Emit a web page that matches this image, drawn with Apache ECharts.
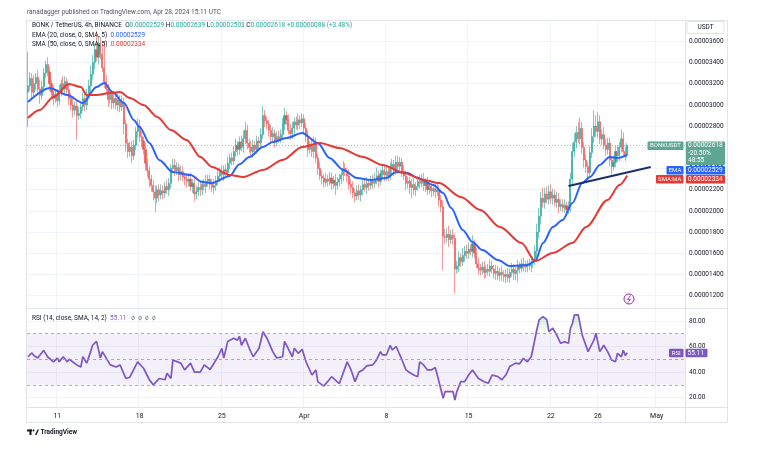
<!DOCTYPE html>
<html>
<head>
<meta charset="utf-8">
<script src="https://cdn.jsdelivr.net/npm/echarts@6/dist/echarts.min.js"></script>
<style>
html, body { margin: 0; padding: 0; background: #fff; }
#chart { width: 765px; height: 451px; }
</style>
</head>
<body>
<div id="chart"></div>
<script>
// BONK/USDT 4h, prices in units of 1e-8 USDT, first bar = Mar 8 12:00
const barCount = 336
const firstOpen = 3120
const closes = [
  3180, 3250, 3120, 3200, 3260, 3150, 3090, 3170, 3300, 3380, 3310, 3200, 3120, 3060, 3100,
  3040, 3130, 3200, 3150, 3220, 3140,
  3060, 3000, 2950, 2990, 2900, 2920,
  2980, 3060, 3000, 3100, 3180, 3290,
  3400, 3520, 3450, 3580, 3480, 3350,
  3220, 3150, 3050, 3100, 3020, 3060,
  3000, 3050, 2980, 3020, 2820, 2640,
  2560, 2600, 2520, 2620, 2750, 2800,
  2700, 2660, 2580, 2450, 2380, 2300,
  2240, 2180, 2120, 2200, 2150, 2190,
  2170, 2230, 2200, 2260, 2400, 2430,
  2380, 2410, 2340, 2370, 2320, 2300,
  2280, 2300, 2230, 2260, 2160, 2180,
  2220, 2200, 2250, 2230, 2280, 2300,
  2250, 2220, 2240, 2280, 2330, 2370,
  2340, 2390, 2360, 2450, 2500, 2470,
  2560, 2620, 2580, 2650, 2600, 2680,
  2760, 2640, 2600, 2560, 2620, 2580,
  2660, 2640, 2720, 2900, 2850, 2820,
  2760, 2700, 2730, 2660, 2700, 2680,
  2720, 2820, 2900, 2860, 2760, 2730,
  2780, 2840, 2810, 2860, 2830, 2870,
  2780, 2700, 2580, 2620, 2560, 2640,
  2500, 2400, 2330, 2310, 2270, 2300,
  2280, 2310, 2260, 2290, 2240, 2270,
  2300, 2340, 2400, 2370, 2330, 2250,
  2220, 2170, 2140, 2190, 2150, 2200,
  2250, 2220, 2260, 2240, 2280, 2260,
  2300, 2330, 2280, 2350, 2380, 2340,
  2370, 2330, 2400, 2440, 2380, 2460,
  2420, 2460, 2370, 2330, 2260, 2280,
  2220, 2250, 2200, 2230, 2280, 2260,
  2300, 2240, 2270, 2200, 2230, 2190,
  2210, 2180, 2200, 2100, 2040, 1760,
  1750, 1780, 1730, 1770, 1740, 1450,
  1480, 1560, 1520, 1580, 1620, 1600,
  1640, 1620, 1690, 1600, 1500, 1460,
  1440, 1470, 1420, 1450, 1430, 1480,
  1450, 1410, 1430, 1390, 1420, 1400,
  1380, 1400, 1370, 1420, 1450, 1410,
  1440, 1480, 1460, 1500, 1490, 1470,
  1500, 1480, 1510, 1530, 1620, 1800,
  1950, 2120, 2080, 2160, 2110, 2180,
  2120, 2150, 2080, 2110, 2040, 2060,
  2030, 2050, 2010, 2040, 2300, 2560,
  2650, 2740, 2680, 2780, 2600, 2480,
  2420, 2360, 2550, 2700, 2800, 2750,
  2840, 2680, 2720, 2620, 2580, 2640,
  2480, 2420, 2460, 2560, 2520, 2600,
  2680, 2560, 2529, 2618
]
const wickUp = [
  320, 60, 50, 80, 40, 70, 90, 60, 50, 40, 70, 50, 40, 60, 50,
  50, 60, 40, 70, 50, 40,
  40, 50, 60, 40, 50, 60,
  50, 60, 40, 50, 60, 80,
  70, 60, 180, 70, 60, 90,
  250, 60, 50, 70, 40, 60,
  50, 60, 40, 70, 50, 40,
  40, 50, 60, 50, 40, 70,
  60, 50, 40, 60, 50, 40,
  40, 50, 60, 40, 50, 60,
  50, 40, 60, 50, 40, 60,
  60, 50, 40, 60, 50, 40,
  40, 50, 60, 40, 50, 60,
  50, 60, 40, 50, 60, 40,
  40, 50, 60, 50, 70, 40,
  60, 40, 50, 60, 40, 50,
  50, 60, 40, 50, 60, 80,
  80, 50, 40, 60, 50, 40,
  50, 40, 60, 90, 50, 40,
  40, 50, 60, 40, 50, 60,
  50, 60, 70, 40, 50, 60,
  60, 40, 50, 60, 40, 50,
  40, 50, 60, 40, 50, 60,
  50, 40, 60, 50, 40, 60,
  40, 60, 50, 40, 60, 50,
  50, 40, 70, 50, 40, 60,
  50, 60, 40, 50, 60, 40,
  40, 50, 60, 40, 50, 60,
  60, 80, 50, 40, 60, 50,
  50, 40, 60, 50, 40, 60,
  60, 50, 40, 60, 50, 40,
  40, 50, 60, 40, 50, 60,
  50, 60, 40, 50, 60, 40,
  40, 50, 60, 40, 50, 60,
  70, 60, 80, 50, 60, 40,
  50, 60, 40, 70, 50, 60,
  60, 50, 80, 40, 50, 60,
  40, 50, 60, 40, 50, 60,
  50, 40, 60, 50, 40, 60,
  40, 50, 60, 40, 60, 50,
  50, 60, 40, 50, 60, 40,
  40, 50, 60, 40, 60, 80,
  80, 60, 100, 60, 70, 60,
  70, 60, 50, 70, 60, 50,
  50, 60, 40, 50, 60, 80,
  80, 60, 100, 100, 60, 50,
  50, 40, 60, 80, 150, 100,
  90, 60, 50, 70, 60, 50,
  50, 40, 60, 50, 60, 50,
  90, 60, 50, 21
]
const wickDown = [
  330, 50, 70, 40, 60, 50, 80, 40, 60, 50, 40, 70, 50, 60, 40,
  60, 40, 50, 40, 60, 50,
  60, 50, 70, 50, 230, 40,
  50, 40, 60, 50, 40, 60,
  50, 60, 40, 70, 50, 40,
  60, 50, 70, 40, 60, 50,
  40, 60, 50, 40, 100, 80,
  60, 50, 70, 40, 50, 60,
  50, 60, 50, 70, 60, 80,
  60, 80, 130, 50, 60, 40,
  60, 50, 40, 60, 50, 40,
  50, 40, 60, 50, 40, 60,
  60, 50, 40, 60, 70, 50,
  40, 60, 50, 40, 60, 50,
  50, 40, 60, 50, 40, 60,
  50, 60, 40, 50, 60, 40,
  40, 50, 60, 50, 40, 50,
  50, 60, 50, 40, 60, 50,
  40, 60, 50, 40, 60, 50,
  60, 50, 40, 60, 50, 40,
  40, 50, 60, 50, 40, 60,
  50, 60, 40, 50, 60, 40,
  60, 50, 70, 40, 50, 60,
  50, 60, 40, 60, 50, 40,
  50, 40, 60, 50, 90, 40,
  40, 50, 60, 40, 60, 50,
  60, 50, 60, 40, 50, 60,
  50, 40, 60, 50, 40, 50,
  40, 50, 60, 40, 50, 60,
  60, 50, 40, 60, 50, 40,
  40, 60, 50, 40, 60, 50,
  60, 100, 50, 60, 40, 50,
  40, 50, 60, 50, 40, 60,
  50, 60, 40, 60, 50, 320,
  60, 50, 70, 40, 60, 225,
  40, 60, 50, 40, 60, 50,
  50, 40, 60, 50, 40, 60,
  50, 40, 60, 50, 40, 50,
  40, 50, 60, 40, 50, 60,
  50, 60, 40, 50, 40, 60,
  60, 110, 50, 40, 60, 50,
  50, 40, 60, 50, 40, 60,
  60, 80, 50, 60, 40, 50,
  50, 60, 40, 50, 60, 40,
  40, 50, 60, 40, 50, 60,
  50, 60, 40, 50, 60, 70,
  60, 70, 40, 50, 60, 50,
  60, 50, 60, 40, 60, 50,
  60, 80, 40, 50, 60, 50,
  50, 40, 60, 26
]
// EMA 20 and SMA 50: [bar index, value]
const emaPoints = [
  [0, 3027], [11, 3160], [20, 3093], [28, 3018], [35, 3169], [39, 3207], [43, 3122], [49, 3018],
  [54, 2858], [57, 2792], [62, 2641], [67, 2480], [74, 2367], [83, 2339], [89, 2273], [94, 2263],
  [103, 2330], [108, 2440], [113, 2509], [120, 2603], [125, 2650], [132, 2688], [140, 2735],
  [148, 2641], [154, 2499], [161, 2386], [168, 2311], [175, 2292], [183, 2311], [188, 2367],
  [194, 2358], [199, 2311], [207, 2244], [212, 2169], [216, 2030], [222, 1820], [227, 1706],
  [232, 1631], [240, 1537], [246, 1480], [255, 1490], [259, 1527], [263, 1697], [268, 1848],
  [273, 1914], [278, 2074], [283, 2263], [287, 2320], [292, 2433], [297, 2509], [301, 2499], [306, 2529]
]
const smaPoints = [
  [0, 2877], [6, 2952], [13, 3075], [21, 3197], [27, 3169], [30, 3093], [35, 3093], [42, 3112],
  [47, 3122], [52, 3065], [59, 2999], [66, 2886], [73, 2763], [81, 2669], [88, 2509], [94, 2414],
  [103, 2339], [110, 2320], [120, 2386], [130, 2480], [140, 2603], [149, 2641], [159, 2594],
  [171, 2509], [181, 2433], [192, 2358], [202, 2292], [210, 2263], [221, 2131], [231, 2008],
  [241, 1848], [252, 1697], [259, 1527], [268, 1603], [278, 1697], [285, 1848], [296, 2103],
  [302, 2244], [306, 2334]
]
const rsiPoints = [
  [0, 52], [2, 55], [3, 53], [5, 51], [8, 57], [10, 52], [13, 48], [15, 51], [16, 48], [18, 52],
  [20, 48], [21, 50], [25, 45.6], [27, 44], [28, 52], [30, 47], [32, 56], [33, 61], [35, 64],
  [37, 51], [38, 56], [42, 45.6], [45, 44], [47, 45.6], [50, 35], [52, 36], [56, 48], [59, 43],
  [62, 34], [64, 30], [67, 35], [70, 34], [71, 39], [73, 35], [74, 49.5], [78, 47], [80, 41.7],
  [83, 47], [85, 40], [88, 40], [90, 45.6], [93, 42], [97, 52], [99, 58.6], [100, 51], [102, 64],
  [105, 66.5], [107, 65], [108, 68], [109, 61], [111, 66.5], [113, 58.6], [115, 52], [118, 58.6],
  [120, 71.6], [122, 66.5], [125, 56], [127, 51], [130, 52], [131, 64], [135, 52], [136, 58.6],
  [138, 54.7], [140, 57.8], [142, 48], [145, 37.7], [147, 41.7], [148, 32.5], [151, 29], [153, 32.5],
  [155, 36.4], [159, 31], [163, 48], [165, 41.7], [167, 32.5], [169, 40], [171, 41.7], [173, 44.8],
  [176, 45.6], [178, 49.5], [180, 56], [181, 53.4], [183, 53.4], [185, 61], [186, 57.3], [188, 60],
  [191, 49.5], [193, 41.7], [195, 39.5], [197, 37.7], [199, 36.4], [200, 48], [202, 45.6], [204, 41.7],
  [206, 41.7], [208, 43.5], [209, 37.7], [212, 19.5], [213, 24.7], [217, 24.7], [218, 18.2],
  [219, 24.7], [221, 32.5], [223, 32.5], [225, 37.7], [227, 41.7], [230, 35], [233, 32.5], [235, 31.2],
  [237, 37.7], [240, 36.4], [242, 34], [244, 37.7], [246, 44.3], [249, 47], [251, 46.4], [253, 50.8],
  [255, 48], [257, 52], [260, 74.3], [261, 80.8], [263, 83.4], [265, 80.8], [266, 71.6], [268, 74.3],
  [270, 69], [272, 62.5], [274, 63.8], [276, 62.5], [277, 74.3], [278, 78], [279, 84.7], [281, 84.7],
  [283, 69], [286, 56], [289, 65], [290, 70.4], [292, 56], [294, 61], [296, 56], [298, 49.5],
  [300, 48], [301, 54.7], [303, 52], [304, 57], [305, 53], [306, 55.11]
]
const necklinePoints = [[276, 2235], [318, 2414]]
const patternMarks = [
  { name: 'S', value: [278, 2839] },
  { name: 'H', value: [289, 3056] },
  { name: 'S', value: [306, 2848] }
]
const tickIndex = [15, 57, 99, 141, 183, 225, 267, 291, 321]
const tickText = ['11', '18', '25', 'Apr', '8', '15', '22', '26', 'May']
const lastPrice = 2618
const emaLast = 2529
const smaLast = 2334
const rsiLast = 55.11

const FONT = 'Roboto, "Noto Sans", sans-serif'
const cats = Array.from({ length: barCount }, (_, i) => String(i))
const candles = closes.map((c, i) => {
  const o = i === 0 ? firstOpen : closes[i - 1]
  const hi = Math.max(o, c) + (wickUp[i] || 0)
  const lo = Math.min(o, c) - (wickDown[i] || 0)
  return [o, c, lo, hi]
})
const isTick = (idx) => tickIndex.indexOf(idx) >= 0
const fmt = (v) => (v / 1e8).toFixed(8)
const gridLine = '#f0f3fa'
// parts of the RSI line outside the 30-70 band, for the zone fills
const rsiHigh = rsiPoints.map(([i, v]) => [i, Math.max(v, 70)])
const rsiLow = rsiPoints.map(([i, v]) => [i, Math.min(v, 30)])

const chart = echarts.init(document.getElementById('chart'))
const option = {
  animation: false,
  backgroundColor: '#fff',
  textStyle: { fontFamily: FONT },
  grid: [
    { left: 27, right: 80, top: 20.1, height: 296.8 },
    { left: 27, right: 80, top: 295.4, height: 127.8 },
    { left: 27, right: 80, top: 308.5, height: 99 }
  ],
  xAxis: [
    {
      type: 'category', gridIndex: 0, data: cats,
      axisLine: { show: false }, axisTick: { show: false }, axisLabel: { show: false },
      splitLine: { show: true, interval: (i) => isTick(i), lineStyle: { color: gridLine, width: 1 } }
    },
    { type: 'category', gridIndex: 1, data: cats, show: false },
    {
      type: 'category', gridIndex: 2, data: cats,
      axisLine: { show: false }, axisTick: { show: false },
      axisLabel: {
        interval: (i) => isTick(i),
        formatter: (v) => { const k = tickIndex.indexOf(Number(v)); return k >= 0 ? tickText[k] : '' },
        fontSize: 7, color: '#131722', margin: 5, fontFamily: FONT
      },
      splitLine: { show: true, interval: (i) => isTick(i), lineStyle: { color: gridLine, width: 1 } }
    }
  ],
  yAxis: [
    {
      type: 'value', gridIndex: 0, position: 'right', min: 1000, max: 3800, interval: 200,
      axisLine: { show: false }, axisTick: { show: false },
      axisLabel: {
        formatter: (v) => (v >= 1200 && v <= 3600) ? fmt(v) : '',
        fontSize: 6.5, color: '#131722', margin: 4, align: 'left', fontFamily: FONT
      },
      splitLine: { show: true, showMinLine: false, showMaxLine: false, lineStyle: { color: gridLine } }
    },
    {
      type: 'value', gridIndex: 1, position: 'right', min: 0, max: 100, interval: 20,
      axisLine: { show: false }, axisTick: { show: false },
      axisLabel: {
        formatter: (v) => (v >= 20 && v <= 80) ? v.toFixed(2) : '',
        fontSize: 6.5, color: '#131722', margin: 4, align: 'left', fontFamily: FONT
      },
      splitLine: { show: true, showMinLine: false, showMaxLine: false, lineStyle: { color: gridLine } }
    },
    { type: 'value', gridIndex: 2, show: false }
  ],
  series: [
    {
      name: 'BONKUSDT', type: 'candlestick', xAxisIndex: 0, yAxisIndex: 0,
      data: candles, barWidth: 1.6,
      itemStyle: { color: '#26a69a', color0: '#ef5350', borderColor: '#26a69a', borderColor0: '#ef5350', borderWidth: 0.6 },
      markLine: {
        silent: true, symbol: ['none', 'none'], label: { show: false },
        lineStyle: { color: '#26a69a', type: [1, 2], width: 1, opacity: 0.6 },
        data: [{ yAxis: lastPrice }]
      }
    },
    {
      name: 'EMA', type: 'line', xAxisIndex: 0, yAxisIndex: 0, data: emaPoints,
      symbol: 'none', smooth: 0.3, smoothMonotone: 'x',
      lineStyle: { color: '#2962ff', width: 2 }
    },
    {
      name: 'SMA', type: 'line', xAxisIndex: 0, yAxisIndex: 0, data: smaPoints,
      symbol: 'none', smooth: 0.3, smoothMonotone: 'x',
      lineStyle: { color: '#e53935', width: 2 }
    },
    {
      name: 'neckline', type: 'line', xAxisIndex: 0, yAxisIndex: 0, data: necklinePoints,
      symbol: 'none', lineStyle: { color: '#1c2f6b', width: 2 }
    },
    {
      name: 'pattern', type: 'scatter', xAxisIndex: 0, yAxisIndex: 0, data: patternMarks,
      symbolSize: 1, itemStyle: { opacity: 0 },
      label: {
        show: true, position: 'inside', formatter: (p) => p.name,
        color: '#3a9a88', fontSize: 13, fontWeight: 600, fontFamily: FONT
      }
    },
    {
      name: 'overbought', type: 'line', xAxisIndex: 1, yAxisIndex: 1, data: rsiHigh,
      symbol: 'none', lineStyle: { width: 0 }, silent: true,
      areaStyle: {
        origin: 70,
        color: new echarts.graphic.LinearGradient(0, 0, 0, 1, [
          { offset: 0, color: 'rgba(76,175,80,0.35)' },
          { offset: 1, color: 'rgba(76,175,80,0.05)' }
        ])
      }
    },
    {
      name: 'oversold', type: 'line', xAxisIndex: 1, yAxisIndex: 1, data: rsiLow,
      symbol: 'none', lineStyle: { width: 0 }, silent: true,
      areaStyle: {
        origin: 30,
        color: new echarts.graphic.LinearGradient(0, 0, 0, 1, [
          { offset: 0, color: 'rgba(242,54,69,0.05)' },
          { offset: 1, color: 'rgba(242,54,69,0.3)' }
        ])
      }
    },
    {
      name: 'RSI', type: 'line', xAxisIndex: 1, yAxisIndex: 1, data: rsiPoints,
      symbol: 'none', lineStyle: { color: '#7e57c2', width: 1.7 },
      markArea: {
        silent: true, itemStyle: { color: 'rgba(126,87,194,0.09)' },
        data: [[{ yAxis: 30 }, { yAxis: 70 }]]
      },
      markLine: {
        silent: true, symbol: ['none', 'none'], label: { show: false },
        lineStyle: { color: '#9598a1', type: [3, 3], width: 0.8 },
        data: [{ yAxis: 70 }, { yAxis: 50 }, { yAxis: 30 }]
      }
    },
    { type: 'line', xAxisIndex: 2, yAxisIndex: 2, data: [] }
  ]
}
chart.setOption(option)

// overlays: frame, legends, value tags
const priceY = chart.convertToPixel({ yAxisIndex: 0 }, lastPrice)
const rsiY = chart.convertToPixel({ yAxisIndex: 1 }, rsiLast)
const txt = (x, y, text, fill, size, extra) => ({
  type: 'text', x: x, y: y, z: 120,
  style: Object.assign({ text: text, fill: fill, fontSize: size || 6.5, fontFamily: FONT, align: 'left', verticalAlign: 'middle', textAlign: 'left', textVerticalAlign: 'middle' }, extra || {})
})
const box = (x, y, w, h, fill, stroke) => ({
  type: 'rect', z: 110, shape: { x: x, y: y, width: w, height: h, r: 1 },
  style: { fill: fill, stroke: stroke || 'none', lineWidth: 1 }
})
const line = (x1, y1, x2, y2) => ({
  type: 'line', z: 100, shape: { x1: x1, y1: y1, x2: x2, y2: y2 },
  style: { stroke: '#e0e3eb', lineWidth: 1 }
})
const richStyle = {
  d: { fill: '#131722', color: '#131722', fontSize: 6.5, fontFamily: FONT },
  g: { fill: '#26a69a', color: '#26a69a', fontSize: 6.5, fontFamily: FONT },
  b: { fill: '#2962ff', color: '#2962ff', fontSize: 6.5, fontFamily: FONT },
  r: { fill: '#e53935', color: '#e53935', fontSize: 6.5, fontFamily: FONT },
  p: { fill: '#7e57c2', color: '#7e57c2', fontSize: 6.5, fontFamily: FONT },
  m: { fill: '#787b86', color: '#787b86', fontSize: 6.5, fontFamily: FONT }
}
const richTxt = (x, y, text) => ({
  type: 'text', x: x, y: y, z: 120,
  style: { text: text, rich: richStyle, fontSize: 6.5, fontFamily: FONT, align: 'left', verticalAlign: 'middle', textAlign: 'left', textVerticalAlign: 'middle' }
})

const tagTop = priceY - 4
const elements = [
  { type: 'rect', z: 100, shape: { x: 26.5, y: 20.5, width: 701, height: 402 }, style: { fill: 'none', stroke: '#e0e3eb', lineWidth: 1 } },
  line(685.5, 20.5, 685.5, 422.5),
  line(26.5, 308.5, 727.5, 308.5),
  line(26.5, 407.5, 727.5, 407.5),
  txt(27, 12, 'ranadagger published on TradingView.com, Apr 28, 2024 15:11 UTC', '#50535e', 6.5),
  richTxt(32, 25, '{d|BONK / TetherUS, 4h, BINANCE  O}{g|0.00002529}{d| H}{g|0.00002639}{d| L}{g|0.00002503}{d| C}{g|0.00002618 +0.00000088 (+3.48%)}'),
  richTxt(32, 35, '{d|EMA (20, close, 0, SMA, 5)  }{b|0.00002529}'),
  richTxt(32, 44.5, '{d|SMA (50, close, 0, SMA, 5)  }{r|0.00002334}'),
  richTxt(32, 318.5, '{d|RSI (14, close, SMA, 14, 2)  }{p|55.11}{m|   ø  ø  ø  ø}'),
  box(687, 21.5, 37, 12, '#fff', '#e0e3eb'),
  txt(705.5, 27.5, 'USDT', '#131722', 6.5, { align: 'center', textAlign: 'center' }),
  // last price tag
  box(686, tagTop, 39, 23.5, '#5ea594'),
  txt(688, priceY, fmt(lastPrice), '#fff', 6.5),
  txt(688, priceY + 7.5, '-20.50%', '#fff', 6.5),
  txt(688, priceY + 15, '48:55', '#fff', 6.5),
  box(647.5, priceY - 4, 36, 8.5, '#5ea594'),
  txt(665.5, priceY + 0.3, 'BONKUSDT', '#fff', 6, { align: 'center', textAlign: 'center' }),
  // EMA tag (pushed below the price tag)
  box(686, tagTop + 24.5, 39, 8.5, '#2962ff'),
  txt(688, tagTop + 28.8, fmt(emaLast), '#fff', 6.5),
  box(666.5, tagTop + 24.5, 17, 8.5, '#2962ff'),
  txt(675, tagTop + 28.8, 'EMA', '#fff', 6, { align: 'center', textAlign: 'center' }),
  // SMA tag
  box(686, tagTop + 33.5, 39, 8.5, '#e53935'),
  txt(688, tagTop + 37.8, fmt(smaLast), '#fff', 6.5),
  box(656, tagTop + 33.5, 27.5, 8.5, '#e53935'),
  txt(669.8, tagTop + 37.8, 'SMA:MA', '#fff', 6, { align: 'center', textAlign: 'center' }),
  // RSI tag
  box(685.5, rsiY - 4, 22, 8.5, '#7e57c2'),
  txt(687.5, rsiY + 0.3, rsiLast.toFixed(2), '#fff', 6.5),
  box(669, rsiY - 4, 14.5, 8.5, '#7e57c2'),
  txt(676.2, rsiY + 0.3, 'RSI', '#fff', 6, { align: 'center', textAlign: 'center' }),
  // flash icon
  { type: 'circle', z: 120, shape: { cx: 629, cy: 299, r: 5 }, style: { fill: '#fff', stroke: '#9c27b0', lineWidth: 1 } },
  { type: 'polyline', z: 121, shape: { points: [[630.5, 295.5], [627.5, 299.5], [630.5, 299.2], [627.8, 302.8]] }, style: { stroke: '#9c27b0', fill: 'none', lineWidth: 0.9 } },
  // footer logo
  { type: 'rect', z: 120, shape: { x: 27, y: 429.5, width: 5, height: 2 }, style: { fill: '#131722' } },
  { type: 'rect', z: 120, shape: { x: 29.5, y: 429.5, width: 2, height: 5.5 }, style: { fill: '#131722' } },
  { type: 'circle', z: 120, shape: { cx: 33.5, cy: 430.5, r: 1 }, style: { fill: '#131722' } },
  { type: 'polygon', z: 120, shape: { points: [[35, 435], [37.5, 429.5], [39, 429.5], [36.5, 435]] }, style: { fill: '#131722' } },
  txt(40.5, 432.3, 'TradingView', '#131722', 6.5, { fontWeight: 'bold' })
]
chart.setOption({ graphic: { elements: elements } })
</script>
</body>
</html>
